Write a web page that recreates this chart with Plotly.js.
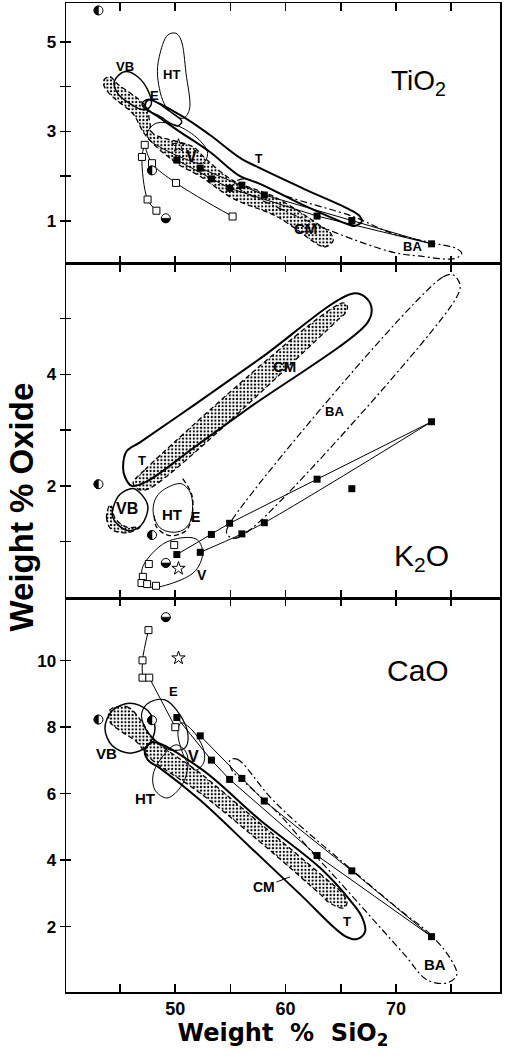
<!DOCTYPE html>
<html><head><meta charset="utf-8">
<script src="https://cdn.plot.ly/plotly-3.0.1.min.js"></script>
<style>html,body{margin:0;padding:0;background:#fff}#chart{width:508px;height:1058px}</style>
</head><body><div id="chart"></div>
<script>
// ---------------- DATA ----------------
// Filled squares (one suite), SiO2 and oxides
const SQ_SIO2 = [50.15, 52.27, 53.28, 54.93, 56.04, 58.07, 62.85, 66.0, 73.22];
const SQ_TIO2 = [2.36, 2.18, 1.94, 1.73, 1.80, 1.58, 1.11, 1.01, 0.49];
const SQ_K2O  = [0.77, 0.81, 1.13, 1.33, 1.14, 1.34, 2.12, 1.95, 3.15];
const SQ_CAO  = [8.29, 7.74, 7.01, 6.43, 6.46, 5.78, 4.14, 3.68, 1.70];
const SQ_BRANCH_A = [0, 2, 3, 6, 8];
const SQ_BRANCH_B_TI = [1, 4, 5, 7, 8];
const SQ_BRANCH_B_K = [1, 4, 5, 8];
const SQ_BRANCH_B_CA = [1, 4, 5, 7, 8];

// Open squares
const OS_TI_X = [47.24, 46.99, 47.9, 50.07, 55.2, 47.5, 48.3];
const OS_TI_Y = [2.70, 2.43, 2.29, 1.85, 1.10, 1.48, 1.23];
const OS_TI_LINE1 = [0, 1, 5, 6];
const OS_TI_LINE2 = [0, 2, 3, 4];
const OS_K_X = [49.91, 47.61, 47.07, 46.95, 47.46, 48.26];
const OS_K_Y = [0.94, 0.60, 0.37, 0.26, 0.24, 0.21];
const OS_CA_X = [47.58, 47.04, 47.04, 47.65, 50.01];
const OS_CA_Y = [10.92, 10.01, 9.49, 9.49, 8.0];
const OS_CA_LINE1 = [0, 1, 2];
const OS_CA_LINE2 = [3, 4];

// Half-filled circles and star
const HC_SIO2 = [43.05, 47.9, 49.15];
const HC_HALF = ['left', 'left', 'bottom'];
const HC_TIO2 = [5.70, 2.13, 1.06];
const HC_K2O = [2.03, 1.12, 0.62];
const HC_CAO = [8.23, 8.21, 11.31];
const STAR_SIO2 = [50.3];
const STAR_TIO2 = [2.68], STAR_K2O = [0.52], STAR_CAO = [10.08];

// ---- Field outlines : TiO2 ----
const TI_VB_X = [45.39,44.48,44.79,45.84,47.2,47.81,47.65,46.6];
const TI_VB_Y = [4.33,4.11,3.85,3.63,3.48,3.59,3.85,4.22];
const TI_HT_X = [49.32,48.56,48.41,49.17,50.68,51.28,50.98,50.53,50.07];
const TI_HT_Y = [5.15,4.67,4.22,3.55,3.29,3.48,4.30,5.04,5.19];
const TI_E_X = [47.0,47.6,49.5,50.6,50.2,48.5,47.3];
const TI_E_Y = [3.62,3.72,3.45,3.22,3.12,3.35,3.50];
const TI_V_X = [47.51,48.26,50.07,52.18,52.94,52.49,50.37,48.56,47.65];
const TI_V_Y = [2.99,3.18,3.14,2.81,2.51,2.29,2.44,2.66,2.81];
const TI_T_X = [47.27,47.54,50.43,53.15,55.87,57.68,61.91,65.83,66.74,66.89,66.25,65.83,61.91,57.68,55.87,53.15,50.43,48.62,47.54];
const TI_T_Y = [3.57,3.70,3.37,2.92,2.41,2.18,1.69,1.25,1.10,0.98,0.89,0.91,1.32,1.83,2.00,2.54,2.99,3.30,3.48];
const TI_CM_X = [43.55,44.1,44.73,47.35,47.7,47.96,51.58,52.8,55.26,58.9,63.12,64.1,64.3,63.6,63.12,59.2,55.26,52.25,50.07,47.36,46.15,44.34,43.58];
const TI_CM_Y = [4.15,4.22,4.07,3.55,3.2,2.96,2.66,2.38,1.90,1.55,0.90,0.72,0.55,0.42,0.45,1.10,1.50,2.0,2.3,2.90,3.40,3.77,4.0];
const TI_BA_X = [55.4,56.3,60.0,66.1,69.7,73.5,75.5,75.95,75.3,72.0,69.75,64.63,58.4,55.8];
const TI_BA_Y = [1.86,1.94,1.56,1.10,0.72,0.50,0.38,0.27,0.16,0.22,0.30,0.73,1.40,1.72];

// ---- Field outlines : K2O ----
const K_T_X = [45.28,45.6,46.81,51.64,57.68,66.13,67.35,67.8,67.35,56.48,51.64,47.42,46.06,45.45];
const K_T_Y = [2.34,2.62,2.78,3.44,4.28,5.45,5.36,5.15,4.91,3.37,2.68,2.08,2.00,2.16];
const K_CM_X = [46.19,47.26,65.23,65.6,65.38,64.93,47.72,46.81];
const K_CM_Y = [2.05,2.29,5.28,5.21,5.09,5.01,1.96,1.93];
const K_CM2_X = [44.1,43.78,44.18,45.61,46.81,45.61,44.55,44.27];
const K_CM2_Y = [1.66,1.44,1.23,1.16,1.26,1.26,1.42,1.62];
const K_VB_X = [46.3,47.51,46.9,45.7,44.34,44.79,45.54];
const K_VB_Y = [1.95,1.65,1.29,1.20,1.44,1.80,1.92];
const K_HT_X = [50.53,51.34,51.58,51.34,50.71,49.71,48.62,48.02,48.17,48.87];
const K_HT_Y = [2.04,1.89,1.65,1.35,1.21,1.17,1.25,1.50,1.75,1.92];
const K_E_X = [50.68,51.52,51.52,50.98,49.47,48.32,48.11];
const K_E_Y = [2.13,1.83,1.47,1.20,1.11,1.26,1.47];
const K_V_X = [47.06,49.17,51.88,52.49,51.88,50.07,47.65,47.06];
const K_V_Y = [0.55,0.99,1.05,0.82,0.49,0.28,0.19,0.34];
const K_BA_X = [54.96,74.28,75.19,75.80,75.34,56.77,55.26,54.66];
const K_BA_Y = [1.33,5.75,5.78,5.60,5.33,1.21,1.06,1.15];

// ---- Field outlines : CaO ----
const CA_VB_X = [43.64,44.31,45.91,47.51,48.17,47.51,45.91,44.31];
const CA_VB_Y = [7.97,8.50,8.72,8.50,7.97,7.44,7.22,7.44];
const CA_CM_X = [44.09,45.61,46.97,47.9,52.25,57.68,63.12,65.2,65.56,65.2,64.02,63.12,57.68,52.25,47.72,46.54,45.18,44.09];
const CA_CM_Y = [8.52,8.62,8.17,7.68,6.62,5.11,3.59,2.98,2.71,2.56,2.71,2.98,4.55,6.02,7.07,7.55,7.86,8.16];
const CA_T_X = [47.26,47.9,52.25,57.68,63.12,65.83,66.92,67.19,66.47,65.38,61.30,56.77,52.25,48.62,47.54];
const CA_T_Y = [7.31,7.55,6.77,5.21,3.77,2.80,2.29,1.84,1.63,1.72,2.98,4.40,5.81,6.77,7.01];
const CA_E_X = [46.97,47.72,49.08,50.43,51.16,50.89,49.53,48.17,47.27];
const CA_E_Y = [8.43,8.76,8.82,8.37,7.77,7.38,7.32,7.62,7.98];
const CA_V_X = [50.52,51.52,52.52,52.61,51.88,51.07,50.43,50.25];
const CA_V_Y = [8.13,7.92,7.38,6.96,6.71,6.96,7.47,7.86];
const CA_HT_X = [50.07,50.98,51.16,50.62,49.26,48.17,47.99,48.62];
const CA_HT_Y = [7.47,7.25,6.86,6.26,5.87,6.11,6.56,7.01];
const CA_BA_X = [54.96,55.6,58.59,61.03,64.93,70.36,73.08,74.89,75.5,74.62,72.81,70.82,67.65,64.02,62.21,59.49,56.77,55.14];
const CA_BA_Y = [7.01,7.04,5.90,5.12,4.01,2.50,1.78,1.06,0.55,0.31,0.40,1.14,2.32,3.66,4.31,5.36,6.20,6.71];

// Field labels: [text, SiO2, oxide, font size]
const LAB_TI = [['VB',45.45,4.44,13],['HT',49.68,4.26,13],['E',48.17,3.81,13],['V',51.45,2.44,16],['CM',61.76,0.84,15],['BA',71.45,0.42,13]];
const LAB_K  = [['T',46.96,2.46,13],['VB',45.61,1.60,16],['HT',49.68,1.48,15],['E',51.85,1.45,14],['V',52.40,0.40,14],['CM',59.94,4.14,15],['BA',64.47,3.33,13]];
const LAB_CA = [['VB',43.79,7.21,15],['HT',47.26,5.86,15],['E',49.81,9.07,13],['V',51.64,7.11,16],['T',65.53,2.15,13],['BA',73.53,0.85,15]];
const PANEL_LABELS = [['TiO<sub>2</sub>',72.08,4.10,'y',28],['K<sub>2</sub>O',72.31,0.71,'y2',30],['CaO',72.02,9.70,'y3',30]];

// Axis ticks (labelled major ticks and unlabelled minor ticks)
const X_TICKS = [50,60,70], X_MINOR = [45,55,65,75];
const TI_TICKS = [1,3,5], TI_MINOR = [2,4];
const K_TICKS = [2,4], K_MINOR = [1,3,5];
const CA_TICKS = [2,4,6,8,10], CA_MINOR = [];

// ---------------- BUILD ----------------
const FONT = 'Liberation Sans, Arial, Helvetica, sans-serif';
const BLACK = '#000';
const DASHDOT = '7px,3px,2px,3px';
const DASH = '5px,3px';
const traces = [];

function loop(xs, ys, ax, w, dash, stipple) {
  const t = {type:'scatter', mode:'lines', x: xs.concat([xs[0]]), y: ys.concat([ys[0]]),
    xaxis:'x', yaxis: ax, line:{color:BLACK, width:w, dash:dash||'solid', shape:'spline', smoothing:1},
    hoverinfo:'skip', showlegend:false};
  if (stipple) {
    t.fill = 'toself';
    t.fillcolor = 'rgba(255,255,255,0)';
    t.fillpattern = {shape:'.', size:3.6, solidity:0.3, fgcolor:BLACK, bgcolor:'#fff'};
  }
  traces.push(t);
}
function path(xs, ys, ax, w, dash, shape) {
  traces.push({type:'scatter', mode:'lines', x: xs, y: ys, xaxis:'x', yaxis: ax,
    line:{color:BLACK, width:w, dash:dash||'solid', shape:shape||'linear', smoothing:1},
    hoverinfo:'skip', showlegend:false});
}
function pick(arr, idx) { return idx.map(i => arr[i]); }

// stippled CM fields first
loop(TI_CM_X, TI_CM_Y, 'y', 1.3, DASH, true);
loop(K_CM_X, K_CM_Y, 'y2', 1.3, DASH, true);
loop(K_CM2_X, K_CM2_Y, 'y2', 1.3, DASH, true);
loop(CA_CM_X, CA_CM_Y, 'y3', 1.3, DASH, true);

// other fields
loop(TI_VB_X, TI_VB_Y, 'y', 1.5);
loop(TI_HT_X, TI_HT_Y, 'y', 1);
loop(TI_E_X, TI_E_Y, 'y', 1.4);
loop(TI_V_X, TI_V_Y, 'y', 1);
loop(TI_T_X, TI_T_Y, 'y', 2);
loop(TI_BA_X, TI_BA_Y, 'y', 1.2, DASHDOT);

loop(K_T_X, K_T_Y, 'y2', 2);
loop(K_VB_X, K_VB_Y, 'y2', 1.5);
loop(K_HT_X, K_HT_Y, 'y2', 1);
path(K_E_X, K_E_Y, 'y2', 1.3, DASH, 'spline');
loop(K_V_X, K_V_Y, 'y2', 1);
loop(K_BA_X, K_BA_Y, 'y2', 1.2, DASHDOT);

loop(CA_T_X, CA_T_Y, 'y3', 2);
loop(CA_VB_X, CA_VB_Y, 'y3', 1.5);
loop(CA_E_X, CA_E_Y, 'y3', 1.2);
loop(CA_V_X, CA_V_Y, 'y3', 1);
loop(CA_HT_X, CA_HT_Y, 'y3', 1);
loop(CA_BA_X, CA_BA_Y, 'y3', 1.2, DASHDOT);

// filled-square lines
path(pick(SQ_SIO2, SQ_BRANCH_A), pick(SQ_TIO2, SQ_BRANCH_A), 'y', 1);
path(pick(SQ_SIO2, SQ_BRANCH_B_TI), pick(SQ_TIO2, SQ_BRANCH_B_TI), 'y', 1);
path(pick(SQ_SIO2, SQ_BRANCH_A), pick(SQ_K2O, SQ_BRANCH_A), 'y2', 1);
path(pick(SQ_SIO2, SQ_BRANCH_B_K), pick(SQ_K2O, SQ_BRANCH_B_K), 'y2', 1, 'solid', 'spline');
path(pick(SQ_SIO2, SQ_BRANCH_A), pick(SQ_CAO, SQ_BRANCH_A), 'y3', 1);
path(pick(SQ_SIO2, SQ_BRANCH_B_CA), pick(SQ_CAO, SQ_BRANCH_B_CA), 'y3', 1);

// open-square lines
path(pick(OS_TI_X, OS_TI_LINE1), pick(OS_TI_Y, OS_TI_LINE1), 'y', 1, 'solid', 'spline');
path(pick(OS_TI_X, OS_TI_LINE2), pick(OS_TI_Y, OS_TI_LINE2), 'y', 1, 'solid', 'spline');
path(pick(OS_CA_X, OS_CA_LINE1), pick(OS_CA_Y, OS_CA_LINE1), 'y3', 1, 'solid', 'spline');
path(pick(OS_CA_X, OS_CA_LINE2), pick(OS_CA_Y, OS_CA_LINE2), 'y3', 1);

// markers
const panels = [['y', SQ_TIO2, OS_TI_X, OS_TI_Y, HC_TIO2, STAR_TIO2],
                ['y2', SQ_K2O, OS_K_X, OS_K_Y, HC_K2O, STAR_K2O],
                ['y3', SQ_CAO, OS_CA_X, OS_CA_Y, HC_CAO, STAR_CAO]];
panels.forEach(p => {
  traces.push({type:'scatter', mode:'markers', x: SQ_SIO2, y: p[1], xaxis:'x', yaxis:p[0],
    marker:{symbol:'square', size:7, color:BLACK}, hoverinfo:'skip', showlegend:false});
  traces.push({type:'scatter', mode:'markers', x: p[2], y: p[3], xaxis:'x', yaxis:p[0],
    marker:{symbol:'square', size:7, color:'#fff', line:{color:BLACK, width:1}}, hoverinfo:'skip', showlegend:false});
  traces.push({type:'scatter', mode:'markers', x: STAR_SIO2, y: p[5], xaxis:'x', yaxis:p[0],
    marker:{symbol:'star-open', size:10, color:BLACK, line:{color:BLACK, width:1}}, hoverinfo:'skip', showlegend:false});
});
// dummy traces for inside-tick overlay axes
['y4','y5','y6'].forEach(a => traces.push({type:'scatter', mode:'markers', x:[null], y:[null], xaxis:'x', yaxis:a, showlegend:false, hoverinfo:'skip'}));

// half-filled circles as pixel-sized shapes anchored at the data points
const R = 4.5, K = 0.5523 * R;
const HALF_PATH = {
  left:   `M0,${-R} C${-K},${-R} ${-R},${-K} ${-R},0 C${-R},${K} ${-K},${R} 0,${R} Z`,
  bottom: `M${-R},0 C${-R},${-K} ${-K},${-R} 0,${-R} C${K},${-R} ${R},${-K} ${R},0 Z`
};
const shapes = [];
panels.forEach(p => {
  HC_SIO2.forEach((xv, i) => {
    const yv = p[4][i];
    shapes.push({type:'circle', xref:'x', yref:p[0], xsizemode:'pixel', ysizemode:'pixel',
      xanchor:xv, yanchor:yv, x0:-R, x1:R, y0:-R, y1:R, fillcolor:'#fff', line:{color:BLACK, width:1}});
    shapes.push({type:'path', xref:'x', yref:p[0], xsizemode:'pixel', ysizemode:'pixel',
      xanchor:xv, yanchor:yv, path:HALF_PATH[HC_HALF[i]], fillcolor:BLACK, line:{color:BLACK, width:0.5}});
  });
});

// annotations
const ann = [];
function addLabels(list, yref) {
  list.forEach(l => ann.push({x:l[1], y:l[2], xref:'x', yref:yref, text:l[0], showarrow:false,
    font:{family:FONT, size:l[3], color:BLACK, weight:700}}));
}
addLabels(LAB_TI, 'y'); addLabels(LAB_K, 'y2'); addLabels(LAB_CA, 'y3');
// T with leader in TiO2, CM with leader in CaO
ann.push({x:57.7, y:2.16, xref:'x', yref:'y', text:'T', showarrow:true, arrowhead:0, arrowwidth:1, arrowcolor:BLACK,
  ax:-1, ay:-10, standoff:0, font:{family:FONT, size:12, color:BLACK, weight:700}});
ann.push({x:60.4, y:3.50, xref:'x', yref:'y3', text:'CM', showarrow:true, arrowhead:0, arrowwidth:1, arrowcolor:BLACK,
  ax:-26, ay:10, standoff:0, font:{family:FONT, size:14, color:BLACK, weight:700}});
PANEL_LABELS.forEach(l => ann.push({x:l[1], y:l[2], xref:'x', yref:l[3], text:l[0], showarrow:false,
  font:{family:FONT, size:l[4], color:BLACK}}));
ann.push({x:-0.1025, y:0.4904, xref:'paper', yref:'paper', text:'Weight % Oxide', textangle:-90, showarrow:false,
  xanchor:'center', yanchor:'middle', font:{family:FONT, size:33, color:BLACK, weight:700}});

const tickfont = {family:FONT, size:17, color:BLACK, weight:700};
function yax(domain, range, vals, minor) {
  return {domain:domain, range:range, anchor:'x', showline:true, mirror:true, linecolor:BLACK, linewidth:1.5,
    ticks:'outside', ticklen:5, tickwidth:1.5, tickcolor:BLACK, tickmode:'array', tickvals:vals,
    minor:{tickmode:'array', tickvals:minor, ticks:'outside', ticklen:5, tickwidth:1.5, tickcolor:BLACK, showgrid:false},
    tickfont:tickfont, showgrid:false, zeroline:false, fixedrange:true};
}
function yin(base, range, vals) {
  return {overlaying:base, anchor:'x', range:range, side:'left', showline:false, ticks:'inside', ticklen:5,
    tickwidth:1.5, tickcolor:BLACK, tickmode:'array', tickvals:vals, showticklabels:false, showgrid:false, zeroline:false};
}
const R_TI = [0.04, 5.866], R_K = [-0.009, 5.977], R_CA = [0.036, 11.886];
const layout = {
  width:508, height:1058, margin:{l:66, r:8, t:3, b:66}, paper_bgcolor:'#fff', plot_bgcolor:'#fff',
  showlegend:false,
  xaxis:{domain:[0,1], range:[40.11,79.42], anchor:'y3', showline:true, linecolor:BLACK, linewidth:1.5,
    mirror:'allticks', ticks:'inside', ticklen:8, tickwidth:1.5, tickcolor:BLACK,
    tickmode:'array', tickvals:X_TICKS,
    minor:{tickmode:'array', tickvals:X_MINOR, ticks:'inside', ticklen:8, tickwidth:1.5, tickcolor:BLACK, showgrid:false},
    tickfont:{family:FONT, size:18, color:BLACK, weight:700},
    showgrid:false, zeroline:false,
    title:{text:'Weight\u00a0\u00a0%\u00a0\u00a0SiO<sub>2</sub>', standoff:4,
      font:{family:'DejaVu Sans, sans-serif', size:24, color:BLACK, weight:700}}},
  yaxis: yax([0.7361,1], R_TI, TI_TICKS, TI_MINOR),
  yaxis2: yax([0.39838,0.7361], R_K, K_TICKS, K_MINOR),
  yaxis3: yax([0,0.39838], R_CA, CA_TICKS, CA_MINOR),
  yaxis4: yin('y', R_TI, TI_TICKS.concat(TI_MINOR)),
  yaxis5: yin('y2', R_K, K_TICKS.concat(K_MINOR)),
  yaxis6: yin('y3', R_CA, CA_TICKS.concat(CA_MINOR)),
  shapes: shapes,
  annotations: ann
};
Plotly.newPlot('chart', traces, layout, {staticPlot:true, displayModeBar:false});
</script></body></html>
